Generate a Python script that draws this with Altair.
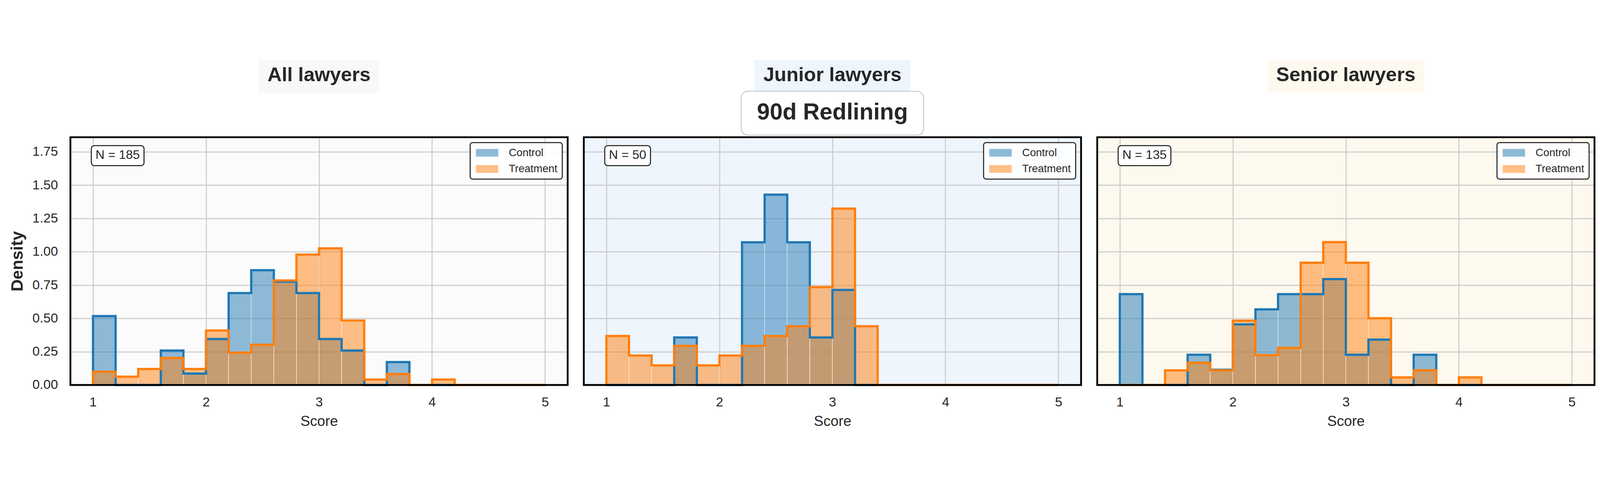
import altair as alt
import pandas as pd

# ---- data (density per 0.2-wide bin, scores 1..5) ----
panel_titles = ["All lawyers", "Junior lawyers", "Senior lawyers"]
panel_n = [185, 50, 135]
suptitle = "90d Redlining"
groups = ["Control", "Treatment"]
group_colors = ["#1f77b4", "#ff7f0e"]

bin_starts = [1.0, 1.2, 1.4, 1.6, 1.8, 2.0, 2.2, 2.4, 2.6, 2.8,
              3.0, 3.2, 3.4, 3.6, 3.8, 4.0, 4.2, 4.4, 4.6, 4.8]
bin_width = 0.2

all_control = [0.517, 0, 0, 0.259, 0.086, 0.345, 0.690, 0.862, 0.776, 0.690,
               0.345, 0.259, 0, 0.172, 0, 0, 0, 0, 0, 0]
all_treatment = [0.100, 0.062, 0.120, 0.203, 0.120, 0.409, 0.243, 0.302, 0.785, 0.979,
                 1.026, 0.484, 0.041, 0.082, 0, 0.041, 0, 0, 0, 0]
junior_control = [0, 0, 0, 0.357, 0, 0, 1.071, 1.429, 1.071, 0.357,
                  0.714, 0, 0, 0, 0, 0, 0, 0, 0, 0]
junior_treatment = [0.368, 0.221, 0.147, 0.294, 0.147, 0.221, 0.294, 0.368, 0.441, 0.735,
                    1.324, 0.441, 0, 0, 0, 0, 0, 0, 0, 0]
senior_control = [0.682, 0, 0, 0.227, 0.114, 0.455, 0.568, 0.682, 0.682, 0.795,
                  0.227, 0.341, 0, 0.227, 0, 0, 0, 0, 0, 0]
senior_treatment = [0, 0, 0.110, 0.167, 0.110, 0.483, 0.224, 0.279, 0.918, 1.073,
                    0.918, 0.501, 0.057, 0.111, 0, 0.057, 0, 0, 0, 0]

x_ticks = [1, 2, 3, 4, 5]
y_ticks = [0, 0.25, 0.5, 0.75, 1.0, 1.25, 1.5, 1.75]

# ---- style ----
FONT = "Liberation Sans"
INK = "#262626"
W, H = 1663, 829
panel_bg = ["#fbfbfb", "#eef5fd", "#fdf9ee"]
title_bg = ["#f8f8f8", "#eef5fd", "#fdf9ee"]
title_half = [202, 261, 262]

# rough Liberation Sans widths (em) for sizing the "N = ..." box
CHAR_W = {"N": 0.722, " ": 0.278, "=": 0.584}


def text_width(s, size):
    return sum(CHAR_W.get(c, 0.556) for c in s) * size


def make_panel(i, control, treatment):
    hist_rows = []
    step_rows = []
    for g, dens in zip(groups, [control, treatment]):
        for x0, d in zip(bin_starts, dens):
            hist_rows.append({"group": g, "x0": x0, "x1": x0 + bin_width, "density": d, "base": 0.0})
        pts = [(bin_starts[0], 0)] + list(zip(bin_starts, dens)) + [(bin_starts[-1] + bin_width, 0)]
        for k, (x, y) in enumerate(pts):
            step_rows.append({"group": g, "idx": k, "x": x, "y": y})
    hist = pd.DataFrame(hist_rows)
    steps = pd.DataFrame(step_rows)

    x_scale = alt.Scale(domain=[0.8, 5.2], nice=False, zero=False)
    y_scale = alt.Scale(domain=[0, 1.86], nice=False, zero=False)
    x_axis = alt.Axis(values=x_ticks, format="d", title="Score", ticks=False, domain=False,
                      labelPadding=36, titlePadding=18, grid=True)
    if i == 0:
        y_axis = alt.Axis(values=y_ticks, format=".2f", title="Density", ticks=False, domain=False,
                          labelPadding=42, titlePadding=20, grid=True)
    else:
        y_axis = alt.Axis(values=y_ticks, title=None, ticks=False, domain=False,
                          labels=False, grid=True)

    fills = alt.Chart(hist).mark_rect(
        fillOpacity=0.5, stroke="white", strokeWidth=2, strokeOpacity=0.5
    ).encode(
        x=alt.X("x0:Q", scale=x_scale, axis=x_axis),
        x2="x1:Q",
        y=alt.Y("density:Q", scale=y_scale, axis=y_axis),
        y2="base:Q",
        color=alt.Color("group:N", scale=alt.Scale(domain=groups, range=group_colors),
                        legend=alt.Legend(title=None, orient="top-right", offset=18,
                                          symbolType="M-1,-0.867L4,-0.867L4,0.867L-1,0.867Z",
                                          symbolSize=900)),
    )

    lines = []
    for g, c in zip(groups, group_colors):
        lines.append(
            alt.Chart(steps).transform_filter(alt.datum.group == g).mark_line(
                interpolate="step-after", color=c, strokeWidth=7.5,
                strokeJoin="miter", strokeCap="butt"
            ).encode(
                x=alt.X("x:Q", scale=x_scale, axis=x_axis),
                y=alt.Y("y:Q", scale=y_scale, axis=y_axis),
                order=alt.Order("idx:Q"),
            )
        )

    one = pd.DataFrame({"label": [""]})
    frame = alt.Chart(one).mark_rect(fillOpacity=0, stroke="black", strokeWidth=6).encode(
        x=alt.value(0), x2=alt.value(W), y=alt.value(0), y2=alt.value(H)
    )

    n_text = "N = %d" % panel_n[i]
    n_df = pd.DataFrame({"label": [n_text]})
    n_box = alt.Chart(n_df).mark_rect(
        fill="white", stroke="#1a1a1a", strokeWidth=3.3, cornerRadius=10
    ).encode(
        x=alt.value(70), x2=alt.value(70 + text_width(n_text, 42) + 28),
        y=alt.value(28), y2=alt.value(95)
    )
    n_lab = alt.Chart(n_df).mark_text(
        font=FONT, fontSize=42, color=INK, align="left", baseline="alphabetic"
    ).encode(x=alt.value(84), y=alt.value(73), text="label:N")

    t_df = pd.DataFrame({"label": [panel_titles[i]]})
    t_box = alt.Chart(t_df).mark_rect(fill=title_bg[i]).encode(
        x=alt.value(W / 2 - title_half[i]), x2=alt.value(W / 2 + title_half[i]),
        y=alt.value(-259), y2=alt.value(-148)
    )
    t_lab = alt.Chart(t_df).mark_text(
        font=FONT, fontSize=66, fontWeight="bold", color=INK, align="center", baseline="alphabetic"
    ).encode(x=alt.value(W / 2), y=alt.value(-188), text="label:N")

    layers = [fills] + lines + [frame, n_box, n_lab, t_box, t_lab]

    if i == 1:
        r_df = pd.DataFrame({"label": [suptitle]})
        layers.append(alt.Chart(r_df).mark_rect(
            fill="white", stroke="#cccccc", strokeWidth=3.3, cornerRadius=22
        ).encode(x=alt.value(W / 2 - 305), x2=alt.value(W / 2 + 305),
                 y=alt.value(-154), y2=alt.value(-7)))
        layers.append(alt.Chart(r_df).mark_text(
            font=FONT, fontSize=77, fontWeight="bold", color=INK, align="center", baseline="alphabetic"
        ).encode(x=alt.value(W / 2), y=alt.value(-59), text="label:N"))

    return alt.layer(*layers).properties(
        width=W, height=H, view=alt.ViewBackground(fill=panel_bg[i], strokeWidth=0)
    )


panels = [
    make_panel(0, all_control, all_treatment),
    make_panel(1, junior_control, junior_treatment),
    make_panel(2, senior_control, senior_treatment),
]

chart = alt.hconcat(*panels, spacing=54, bounds="flush").resolve_scale(
    color="independent"
).resolve_legend(
    color="independent"
).properties(
    padding={"left": 20, "top": 0, "right": 5, "bottom": 5},
    background="white",
).configure_view(
    strokeWidth=0
).configure_axis(
    labelFont=FONT, labelFontSize=44, labelColor=INK,
    titleFont=FONT, titleColor=INK,
    gridColor="#cccccc", gridWidth=3.5,
).configure_axisX(
    titleFontSize=48, titleFontWeight="normal",
).configure_axisY(
    titleFontSize=56, titleFontWeight="bold",
).configure_legend(
    labelFont=FONT, labelFontSize=36, labelColor=INK, labelOffset=77, labelLimit=400,
    padding=16, rowPadding=18, cornerRadius=8,
    fillColor="rgba(255,255,255,0.85)", strokeColor="#1a1a1a", strokeWidth=3.3,
    symbolOpacity=0.5, symbolStrokeWidth=0,
)

chart.save("out.html", embed_options={"renderer": "svg", "actions": False})
